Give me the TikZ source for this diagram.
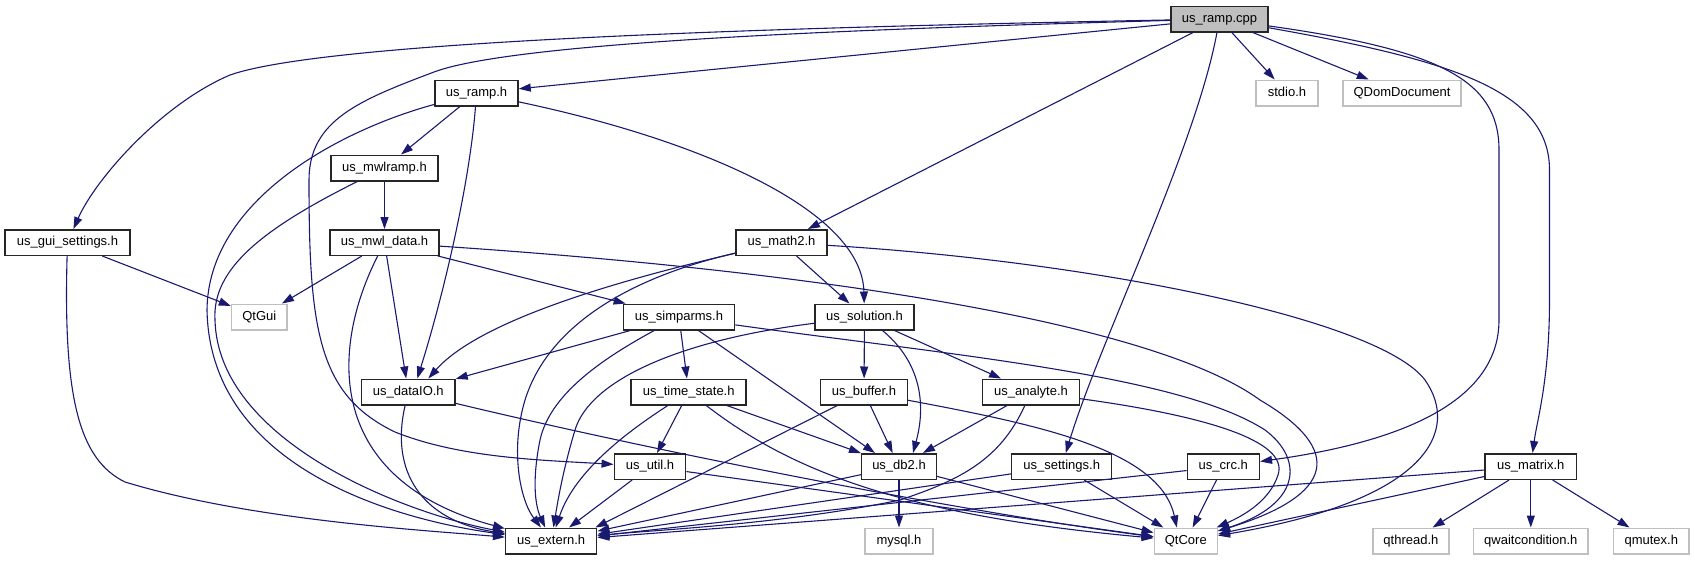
\documentclass[tikz,border=0pt]{standalone}
\usepackage{fontspec}
\setmainfont{Liberation Sans}
\usetikzlibrary{arrows.meta}
\definecolor{edgec}{HTML}{191970}
\definecolor{gfill}{HTML}{BFBFBF}
\definecolor{gline}{HTML}{BFBFBF}
\begin{document}
\begin{tikzpicture}[x=1pt,y=-1pt,
  font=\fontsize{13}{15}\selectfont,
  nbox/.style={draw=black!85, line width=1.5pt, fill=white, minimum height=25.5pt, inner sep=0pt, text height=9.4pt, text depth=2.8pt},
  xbox/.style={draw=gline, line width=1.5pt, fill=white, minimum height=25.5pt, inner sep=0pt, text height=9.4pt, text depth=2.8pt},
  dep/.style={draw=edgec, line width=1.1pt, -{Triangle[length=12pt,width=8pt]}}
]
\useasboundingbox (0,0) rectangle (1695,560);
% nodes
\node[nbox, fill=gfill, minimum width=97pt] (cpp) at (1219.5,19) {us\_ramp.cpp};
\node[nbox, minimum width=83pt] (ramph) at (476.5,93) {us\_ramp.h};
\node[xbox, minimum width=62pt] (stdio) at (1287,93) {stdio.h};
\node[xbox, minimum width=118pt] (qdom) at (1402,93) {QDomDocument};
\node[nbox, minimum width=107pt] (mwlramp) at (384.5,168) {us\_mwlramp.h};
\node[nbox, minimum width=125pt] (gui) at (67.5,242.5) {us\_gui\_settings.h};
\node[nbox, minimum width=109pt] (mwldata) at (384.5,242.5) {us\_mwl\_data.h};
\node[nbox, minimum width=91pt] (math2) at (781.5,242.5) {us\_math2.h};
\node[xbox, minimum width=55.5pt] (qtgui) at (259.3,317) {QtGui};
\node[nbox, minimum width=111pt] (simparms) at (679,317) {us\_simparms.h};
\node[nbox, minimum width=99pt] (solution) at (864.5,317) {us\_solution.h};
\node[nbox, minimum width=93.4pt] (dataio) at (408.3,392) {us\_dataIO.h};
\node[nbox, minimum width=115pt] (timestate) at (688.7,392) {us\_time\_state.h};
\node[nbox, minimum width=86.6pt] (buffer) at (864,392) {us\_buffer.h};
\node[nbox, minimum width=96.6pt] (analyte) at (1031,392) {us\_analyte.h};
\node[nbox, minimum width=71.4pt] (util) at (650,466.5) {us\_util.h};
\node[nbox, minimum width=74.6pt] (db2) at (899,466.5) {us\_db2.h};
\node[nbox, minimum width=100pt] (settings) at (1061.7,466.5) {us\_settings.h};
\node[nbox, minimum width=72pt] (crc) at (1223.3,466.5) {us\_crc.h};
\node[nbox, minimum width=91.5pt] (matrix) at (1530.8,466.5) {us\_matrix.h};
\node[nbox, minimum width=91pt] (extern) at (551.2,541) {us\_extern.h};
\node[xbox, minimum width=68pt] (mysql) at (899,541) {mysql.h};
\node[xbox, minimum width=63pt] (qtcore) at (1185.8,541) {QtCore};
\node[xbox, minimum width=76.3pt] (qthread) at (1410.9,541) {qthread.h};
\node[xbox, minimum width=114.5pt] (qwait) at (1530.8,541) {qwaitcondition.h};
\node[xbox, minimum width=75.4pt] (qmutex) at (1651.3,541) {qmutex.h};

% us_ramp.cpp
\draw[dep] (cpp) .. controls (800,27) and (330,40) .. (230,75) .. controls (160,105) and (95,180) .. (gui);
\draw[dep] (cpp) .. controls (900,28) and (520,40) .. (434,72) .. controls (360,100) and (309,120) .. (309,180) .. controls (309,330) and (318,395) .. (395,432) .. controls (460,458) and (540,460) .. (util);
\draw[dep] (cpp) -- (ramph);
\draw[dep] (cpp) -- (math2);
\draw[dep] (cpp) .. controls (1195,150) and (1100,340) .. (settings);
\draw[dep] (cpp) -- (stdio);
\draw[dep] (cpp) -- (qdom);
\draw[dep] (cpp) .. controls (1440,50) and (1499,80) .. (1499,150) -- (1499,320) .. controls (1499,410) and (1380,445) .. (crc);
\draw[dep] (cpp) .. controls (1450,60) and (1549.5,90) .. (1549.5,170) -- (1549.5,300) .. controls (1549.5,380) and (1537,420) .. (matrix);

% us_ramp.h
\draw[dep] (ramph) -- (mwlramp);
\draw[dep] (ramph) .. controls (340,130) and (208,200) .. (207,310) .. controls (210,470) and (400,520) .. (extern);
\draw[dep] (ramph) .. controls (470,180) and (445,290) .. ([xshift=9pt]dataio.north);
\draw[dep] (ramph) .. controls (700,140) and (862,210) .. (solution);

% us_mwlramp.h
\draw[dep] (mwlramp) -- (mwldata);
\draw[dep] (mwlramp) .. controls (260,230) and (212,270) .. (215,320) .. controls (218,440) and (400,512) .. (extern);

% us_gui_settings.h
\draw[dep] (gui) -- (qtgui);
\draw[dep] (gui) .. controls (63,400) and (80,460) .. (125,482) .. controls (250,520) and (420,530) .. (extern);

% us_mwl_data.h
\draw[dep] (mwldata) -- (qtgui);
\draw[dep] (mwldata) -- (dataio);
\draw[dep] (mwldata) .. controls (330,350) and (325,480) .. (extern);
\draw[dep] (mwldata) -- (simparms);
\draw[dep] (mwldata) .. controls (800,270) and (1150,320) .. (1260,400) .. controls (1345,450) and (1335,495) .. (qtcore);

% us_math2.h
\draw[dep] (math2) -- (solution);
\draw[dep] (math2) .. controls (620,280) and (480,320) .. ([xshift=20pt]dataio.north);
\draw[dep] (math2) .. controls (640,275) and (550,320) .. (525,400) .. controls (510,450) and (520,500) .. (extern);
\draw[dep] (math2) .. controls (1100,262) and (1380,320) .. (1425,380) .. controls (1460,430) and (1430,500) .. (qtcore);

% us_simparms.h
\draw[dep] (simparms) -- (dataio);
\draw[dep] (simparms) -- (timestate);
\draw[dep] (simparms) -- ([xshift=-24pt]db2.north);
\draw[dep] (simparms) .. controls (600,360) and (550,395) .. (540,440) .. controls (532,480) and (535,505) .. (extern);
\draw[dep] (simparms) .. controls (950,355) and (1180,375) .. (1265,430) .. controls (1305,460) and (1300,505) .. (qtcore);

% us_solution.h
\draw[dep] (solution) -- (buffer);
\draw[dep] (solution) -- (analyte);
\draw[dep] ([xshift=18pt]solution.south) .. controls (930,370) and (922,420) .. ([xshift=14pt]db2.north);
\draw[dep] (solution) .. controls (680,340) and (590,380) .. (575,430) .. controls (563,470) and (558,500) .. (extern);

% us_time_state.h
\draw[dep] (timestate) -- (util);
\draw[dep] (timestate) .. controls (630,430) and (575,470) .. (extern);
\draw[dep] (timestate) -- (db2);
\draw[dep] (timestate) .. controls (790,470) and (900,515) .. (qtcore);

% us_buffer.h
\draw[dep] (buffer) -- (db2);
\draw[dep] (buffer) -- ([xshift=-2pt]extern.north east);
\draw[dep] (buffer) .. controls (1040,425) and (1160,450) .. ([xshift=-9pt]qtcore.north);

% us_analyte.h
\draw[dep] (analyte) -- (db2);
\draw[dep] (analyte) .. controls (1000,460) and (960,480) .. (900,500) .. controls (780,525) and (650,530) .. (extern);
\draw[dep] (analyte) .. controls (1200,415) and (1290,440) .. (1278,475) .. controls (1270,500) and (1245,515) .. (qtcore);

% us_util.h
\draw[dep] (util) -- (extern);
\draw[dep] (util) -- (qtcore);

% us_dataIO.h
\draw[dep] (dataio) .. controls (390,470) and (420,520) .. (extern);
\draw[dep] (dataio) .. controls (650,450) and (950,510) .. (qtcore);

% us_db2.h
\draw[dep] (db2) -- (mysql);
\draw[dep] (db2) -- (extern);
\draw[dep] (db2) -- (qtcore);

% us_settings.h
\draw[dep] (settings) -- (extern);
\draw[dep] (settings) -- (qtcore);

% us_crc.h
\draw[dep] (crc) -- (extern);
\draw[dep] (crc) -- (qtcore);

% us_matrix.h
\draw[dep] (matrix) -- (extern);
\draw[dep] (matrix) -- (qtcore);
\draw[dep] (matrix) -- (qthread);
\draw[dep] (matrix) -- (qwait);
\draw[dep] (matrix) -- (qmutex);
\end{tikzpicture}
\end{document}
